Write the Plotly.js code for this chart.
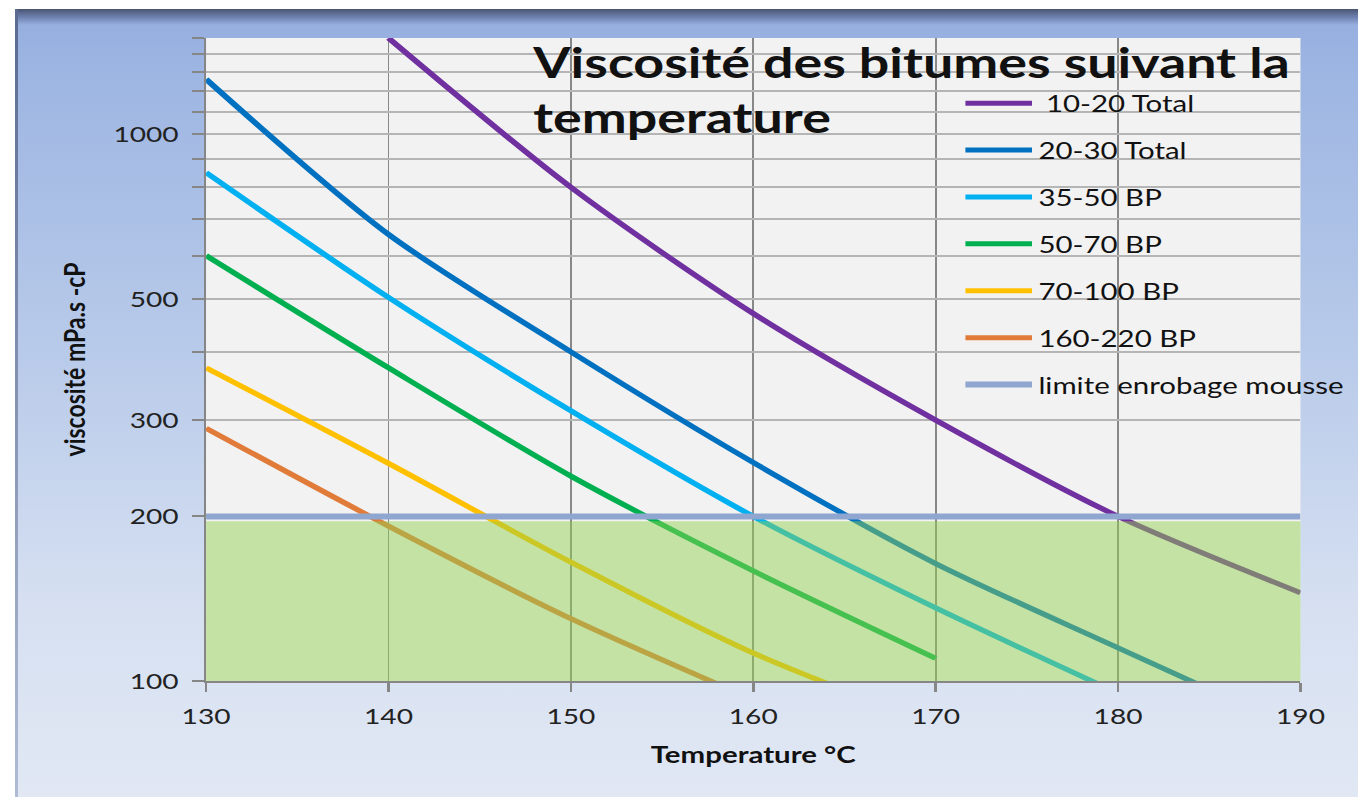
<!DOCTYPE html>
<html><head><meta charset="utf-8">
<script src="https://cdn.plot.ly/plotly-3.0.1.min.js"></script>
<style>
html,body{margin:0;padding:0;background:#fff;width:1358px;height:797px;overflow:hidden;}
#bg{position:absolute;left:15px;top:9px;width:1343px;height:788px;background:linear-gradient(to bottom,#4a5472 0px,#6d80ae 8px,#97afdf 16px,#9db5e2 60px,#b9cbea 350px,#d6e0f1 600px,#e1e8f4 788px);}
#edge{position:absolute;left:15px;top:9px;width:3px;height:788px;background:linear-gradient(to bottom,#5a6a90,#b0bcd6);}
#chart{position:absolute;left:0;top:0;width:1061px;height:797px;transform:scaleX(1.28);transform-origin:0 0;}
</style></head><body>
<div id="bg"></div><div id="edge"></div><div id="chart"></div>
<script>
// Data (temperature °C -> viscosity mPa.s)
const names = [" 10-20 Total", "20-30 Total", "35-50 BP", "50-70 BP", "70-100 BP", "160-220 BP", "limite enrobage mousse"];
const t_10_20 = [140, 150, 160, 170, 180, 190];
const v_10_20 = [1500, 800, 470, 300, 200, 145];
const t_20_30 = [130, 140, 150, 160, 170, 180, 190];
const v_20_30 = [1261, 656, 400, 251, 164, 115, 81];
const t_35_50 = [130, 140, 150, 160, 170, 180];
const v_35_50 = [851, 503, 312, 200, 136, 95];
const t_50_70 = [130, 140, 150, 160, 170];
const v_50_70 = [600, 374, 237, 159, 110];
const t_70_100 = [130, 140, 150, 160, 170];
const v_70_100 = [374, 250, 165, 112.5, 83];
const t_160_220 = [130, 140, 150, 160];
const v_160_220 = [290, 192, 130, 92.5];
const t_limite = [130, 190];
const v_limite = [200, 200];
const yTickVals = [100,200,300,400,500,600,700,800,900,1000,1100,1200,1300,1400,1500];
const yTickText = ["100","200","300","","500","","","","","1000","","","","",""];
const xTickVals = [130,140,150,160,170,180,190];

const colors = ["#7030A0", "#0070C0", "#00B0F0", "#00B050", "#FFC000", "#E07B39", "#8FA6D0"];
const xs = [t_10_20, t_20_30, t_35_50, t_50_70, t_70_100, t_160_220, t_limite];
const ys = [v_10_20, v_20_30, v_35_50, v_50_70, v_70_100, v_160_220, v_limite];

const traces = xs.map((x, i) => ({
  x: x, y: ys[i], name: names[i], type: 'scatter', mode: 'lines',
  legendgroup: 'g' + i,
  line: {color: colors[i], width: i === 6 ? 6 : 5, shape: i === 6 ? 'linear' : 'spline', smoothing: 0.8},
  hoverinfo: 'x+y'
}));

const font = "Lato, 'Noto Sans', sans-serif";
const layout = {
  width: 1061, height: 797,
  margin: {l: 160.9, r: 44.5, t: 38, b: 116, autoexpand: false},
  paper_bgcolor: 'rgba(0,0,0,0)',
  plot_bgcolor: '#f2f2f2',
  font: {family: font, color: '#222'},
  showlegend: true,
  legend: {x: 0.688, xanchor: 'left', y: 0.932, yanchor: 'top', bgcolor: 'rgba(0,0,0,0)',
           font: {family: font, size: 23, color: '#111'}, tracegroupgap: 14, itemwidth: 52},
  title: {text: "<b>Viscosité des bitumes suivant la<br>temperature</b>", x: 0.299, xref: 'paper', xanchor: 'left',
          y: 0.902, yref: 'container', yanchor: 'top', font: {family: font, size: 42, color: '#111'}},
  xaxis: {range: [130, 190], tickvals: xTickVals, ticks: 'outside', ticklen: 9, tickwidth: 2, tickcolor: '#868686',
          showline: true, linecolor: '#868686', linewidth: 2, gridcolor: '#888888', gridwidth: 1.5,
          tickfont: {family: font, size: 22, color: '#222'}, zeroline: false, ticklabelstandoff: 6,
          title: {text: "<b>Temperature °C</b>", font: {family: font, size: 23, color: '#111'}, standoff: 19}},
  yaxis: {type: 'log', range: [2, Math.log10(1500)], tickvals: yTickVals, ticktext: yTickText,
          ticks: 'outside', ticklen: 9, tickwidth: 2, tickcolor: '#868686',
          showline: true, linecolor: '#868686', linewidth: 2, gridcolor: '#b5b5b5', gridwidth: 2,
          tickfont: {family: font, size: 22, color: '#222'}, zeroline: false, ticklabelstandoff: 6,
          title: {text: "<b>viscosité mPa.s -cP</b>", font: {family: font, size: 23, color: '#111'}, standoff: 15}},
  shapes: [{type: 'rect', xref: 'x domain', yref: 'y', x0: 0, x1: 1, y0: 100, y1: 196,
            fillcolor: '#92D050', opacity: 0.48, line: {width: 0}, layer: 'above'}]
};
Plotly.newPlot('chart', traces, layout, {displayModeBar: false, staticPlot: true});
</script>
</body></html>
